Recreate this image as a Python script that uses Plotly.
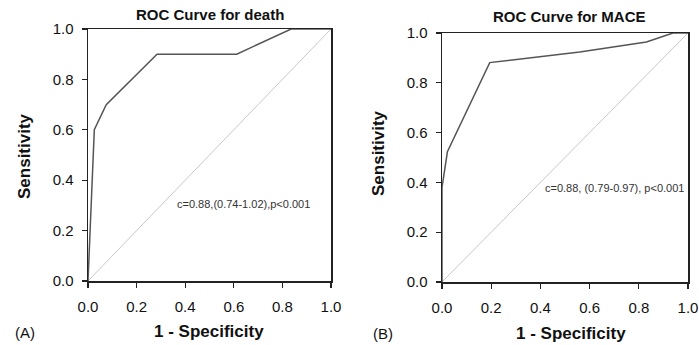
import plotly.graph_objects as go

# ---- data ----
fpr_death = [0.0, 0.026, 0.075, 0.284, 0.612, 0.836, 1.0]
tpr_death = [0.0, 0.60, 0.70, 0.90, 0.90, 1.0, 1.0]

fpr_mace = [0.0, 0.0, 0.022, 0.194, 0.56, 0.831, 0.939, 1.0]
tpr_mace = [0.0, 0.38, 0.523, 0.881, 0.924, 0.964, 1.0, 1.0]

ref_line = [0.0, 1.0]
tick_vals = [0.0, 0.2, 0.4, 0.6, 0.8, 1.0]
tick_text = ["0.0", "0.2", "0.4", "0.6", "0.8", "1.0"]

titles = ["ROC Curve for death", "ROC Curve for MACE"]
stats = ["c=0.88,(0.74-1.02),p<0.001", "c=0.88, (0.79-0.97), p<0.001"]
panel_labels = ["(A)", "(B)"]
x_title = "1 - Specificity"
y_title = "Sensitivity"

W, H = 699, 345
FONT = "Arial, Liberation Sans, sans-serif"

def px_x(p):
    return p / W

def px_y(p):
    return 1 - p / H

fig = go.Figure()

# diagonal reference lines
fig.add_trace(go.Scatter(x=ref_line, y=ref_line, mode="lines",
                         line=dict(color="#c8c8c8", width=1),
                         xaxis="x", yaxis="y", showlegend=False, hoverinfo="skip"))
fig.add_trace(go.Scatter(x=ref_line, y=ref_line, mode="lines",
                         line=dict(color="#c8c8c8", width=1),
                         xaxis="x2", yaxis="y2", showlegend=False, hoverinfo="skip"))
# ROC curves
fig.add_trace(go.Scatter(x=fpr_death, y=tpr_death, mode="lines",
                         line=dict(color="#555555", width=1.5),
                         xaxis="x", yaxis="y", showlegend=False, cliponaxis=False))
fig.add_trace(go.Scatter(x=fpr_mace, y=tpr_mace, mode="lines",
                         line=dict(color="#555555", width=1.5),
                         xaxis="x2", yaxis="y2", showlegend=False, cliponaxis=False))

axis_common = dict(
    range=[0, 1], tickvals=tick_vals, ticktext=tick_text, automargin=False,
    showgrid=False, zeroline=False, showline=True, linecolor="#222222", linewidth=1.5,
    mirror=True, ticks="outside", ticklen=5, tickwidth=1.2, tickcolor="#222222",
    tickfont=dict(family=FONT, size=15, color="#111111"), fixedrange=True,
)

# panel geometry in pixels
A = dict(x0=88, x1=331, y0=29, y1=281)
B = dict(x0=442, x1=688, y0=33, y1=282)

fig.update_layout(
    width=W, height=H, autosize=False,
    margin=dict(l=0, r=0, t=0, b=0, pad=0),
    paper_bgcolor="white", plot_bgcolor="white",
    xaxis=dict(axis_common, domain=[px_x(A["x0"]), px_x(A["x1"])], anchor="y", ticklabelstandoff=6),
    yaxis=dict(axis_common, domain=[px_y(A["y1"]), px_y(A["y0"])], anchor="x", ticklabelstandoff=5),
    xaxis2=dict(axis_common, domain=[px_x(B["x0"]), px_x(B["x1"])], anchor="y2", ticklabelstandoff=6),
    yaxis2=dict(axis_common, domain=[px_y(B["y1"]), px_y(B["y0"])], anchor="x2", ticklabelstandoff=5),
)

ann = []
# titles
ann.append(dict(x=px_x(209.5), y=px_y(15), text="<b>%s</b>" % titles[0]))
ann.append(dict(x=px_x(569), y=px_y(16), text="<b>%s</b>" % titles[1]))
for a in ann:
    a.update(xref="paper", yref="paper", showarrow=False, xanchor="center", yanchor="middle",
             font=dict(family=FONT, size=15, color="#111111"))

more = []
# x-axis titles
more.append(dict(x=px_x(209), y=px_y(331), text="<b>%s</b>" % x_title,
                 font=dict(family=FONT, size=17, color="#111111")))
more.append(dict(x=px_x(571), y=px_y(333), text="<b>%s</b>" % x_title,
                 font=dict(family=FONT, size=17, color="#111111")))
# y-axis titles
more.append(dict(x=px_x(24), y=px_y(156), text="<b>%s</b>" % y_title, textangle=-90,
                 font=dict(family=FONT, size=17, color="#111111")))
more.append(dict(x=px_x(378), y=px_y(153), text="<b>%s</b>" % y_title, textangle=-90,
                 font=dict(family=FONT, size=17, color="#111111")))
# panel labels
more.append(dict(x=px_x(25), y=px_y(332), text=panel_labels[0],
                 font=dict(family=FONT, size=15, color="#111111")))
more.append(dict(x=px_x(383), y=px_y(333), text=panel_labels[1],
                 font=dict(family=FONT, size=15, color="#111111")))
# statistics text
more.append(dict(x=px_x(243.5), y=px_y(204), text=stats[0],
                 font=dict(family=FONT, size=11, color="#333333")))
more.append(dict(x=px_x(614), y=px_y(188), text=stats[1],
                 font=dict(family=FONT, size=11, color="#333333")))
for a in more:
    a.update(xref="paper", yref="paper", showarrow=False, xanchor="center", yanchor="middle")

fig.update_layout(annotations=ann + more)

fig.write_html("out.html", config={"displayModeBar": False, "staticPlot": True},
               post_script="document.body.style.margin='0';document.body.style.overflow='hidden';")
